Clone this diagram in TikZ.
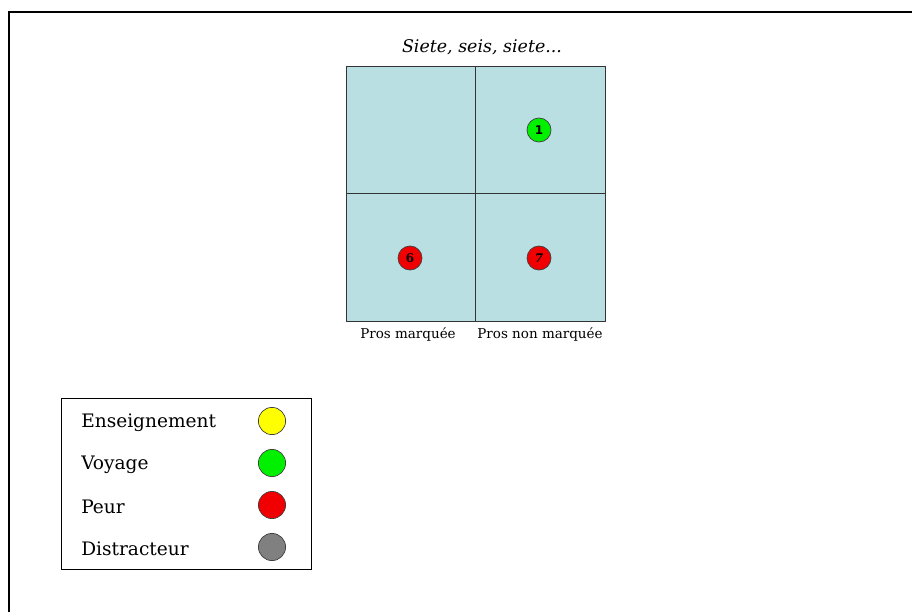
\documentclass[tikz,border=0pt]{standalone}
\usepackage{fontspec}
\setmainfont{DejaVu Serif}
\setsansfont{DejaVu Sans}
\usetikzlibrary{positioning}
\definecolor{cellblue}{HTML}{BADFE2}
\definecolor{dotgreen}{HTML}{00F000}
\definecolor{dotred}{HTML}{F00000}
\definecolor{dotyellow}{HTML}{FFFF00}
\definecolor{dotgray}{HTML}{808080}
\tikzset{
  cell/.style={draw=black!80, fill=cellblue, line width=0.7pt, minimum width=3.24cm,
               minimum height=3.175cm, inner sep=0pt, outer sep=0pt},
  dot/.style={circle, draw=black!75, line width=0.5pt, minimum size=0.6cm, inner sep=0pt,
              font=\fontsize{8.5}{9}\selectfont\bfseries},
  key/.style={circle, draw=black!75, line width=0.5pt, minimum size=0.68cm, inner sep=0pt},
  lab/.style={font=\fontsize{9.6}{11}\selectfont},
  keytxt/.style={anchor=west, font=\fontsize{13.2}{15}\selectfont, inner sep=0pt},
  frame/.style={line width=1.6pt}
}
\begin{document}
\begin{tikzpicture}[x=0.025cm, y=-0.025cm]
\useasboundingbox (0,0) rectangle (912,612);
\draw[frame] (9,612) -- (9,12) -- (912,12);
\node[font=\fontsize{12.4}{14}\selectfont\itshape] (title) at (482,47) {Siete, seis, siete...};
\node[cell] (tl) at (411.25,130.5) {};
\node[cell] (tr) at (540.75,130.5) {};
\node[cell] (bl) at (411.25,257.5) {};
\node[cell] (br) at (540.75,257.5) {};
\node[dot, fill=dotgreen, font=\fontsize{8.5}{9}\selectfont\sffamily\bfseries] (d1) at (539,130) {1};
\node[dot, fill=dotred] (d6) at (410,258) {6};
\node[dot, fill=dotred] (d7) at (539,258) {\itshape 7};
\node[lab] (pm) at (408,334) {Pros marquée};
\node[lab] (pnm) at (540,334) {Pros non marquée};
\draw[line width=0.7pt] (61,398) rectangle (311,569);
\node[keytxt] (tens) at (81,423) {Enseignement};
\node[keytxt] (tvoy) at (81,465) {Voyage};
\node[keytxt] (tpeur) at (81,507) {Peur};
\node[keytxt] (tdis) at (81,549) {Distracteur};
\node[key, fill=dotyellow] (kens) at (272,421) {};
\node[key, fill=dotgreen] (kvoy) at (272,463) {};
\node[key, fill=dotred] (kpeur) at (272,505) {};
\node[key, fill=dotgray] (kdis) at (272,547) {};
\end{tikzpicture}
\end{document}
